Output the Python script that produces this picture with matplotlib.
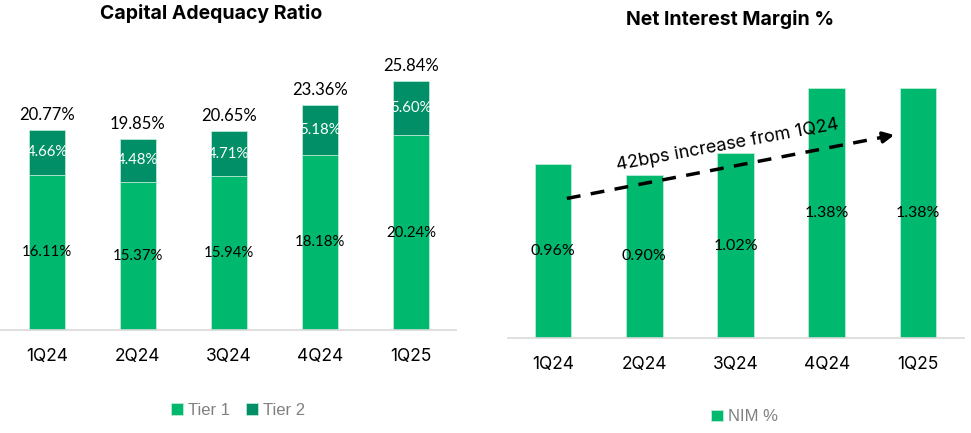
import matplotlib.pyplot as plt
import numpy as np

quarters = ["1Q24", "2Q24", "3Q24", "4Q24", "1Q25"]
tier1 = [16.11, 15.37, 15.94, 18.18, 20.24]
tier2 = [4.66, 4.48, 4.71, 5.18, 5.60]
car_total = [20.77, 19.85, 20.65, 23.36, 25.84]
nim = [0.96, 0.90, 1.02, 1.38, 1.38]

GREEN = "#00B86E"
DARK_GREEN = "#008F66"
LABEL_FONT = "Lato"
TICK_FONT = "Inter"

fig = plt.figure(figsize=(9.71, 4.33), dpi=100)
ax1 = fig.add_axes([0.0015, 0.2379, 0.4686, 0.6674])
ax2 = fig.add_axes([0.5227, 0.2194, 0.4696, 0.6697])

x = np.arange(len(quarters))
w = 0.4

# ---------- Capital Adequacy Ratio ----------
b1 = ax1.bar(x, tier1, w, color=GREEN, edgecolor="#c8eedc", linewidth=0.5, label="Tier 1")
b2 = ax1.bar(x, tier2, w, bottom=tier1, color=DARK_GREEN, edgecolor="#c8eedc", linewidth=0.5, label="Tier 2")
ax1.bar_label(b1, labels=[f"{v:.2f}%" for v in tier1], label_type="center",
              fontsize=10.8, family=LABEL_FONT, color="black")
ax1.bar_label(b2, labels=[f"{v:.2f}%" for v in tier2], label_type="center",
              fontsize=10.8, family=LABEL_FONT, color="white")
ax1.bar_label(b2, labels=[f"{v:.2f}%" for v in car_total], padding=5,
              fontsize=12, family=LABEL_FONT, color="black")
ax1.set_xlim(-0.5, 4.5)
ax1.set_ylim(0, 30)

# ---------- Net Interest Margin ----------
b3 = ax2.bar(x, nim, w, color=GREEN, edgecolor="#c8eedc", linewidth=0.5, label="NIM %")
ax2.bar_label(b3, labels=[f"{v:.2f}%" for v in nim], label_type="center",
              fontsize=11.5, family=LABEL_FONT, color="black")
ax2.set_xlim(-0.5, 4.5)
ax2.set_ylim(0, 1.6)

arrow_start = (0.15, 0.77)
arrow_end = (3.74, 1.12)
t = 0.96
mid = (arrow_start[0] + t * (arrow_end[0] - arrow_start[0]),
       arrow_start[1] + t * (arrow_end[1] - arrow_start[1]))
ax2.plot([arrow_start[0], mid[0]], [arrow_start[1], mid[1]], color="black",
         lw=2.5, ls=(0, (4, 3)), solid_capstyle="butt")
ax2.annotate("", xy=arrow_end, xytext=mid,
             arrowprops=dict(arrowstyle="-|>", color="black", lw=2.5,
                             mutation_scale=16, shrinkA=0, shrinkB=0))
ax2.text(1.91, 1.066, "42bps increase from 1Q24", rotation=10.5,
         ha="center", va="center", fontsize=13, family=TICK_FONT,
         rotation_mode="anchor")

for ax in (ax1, ax2):
    ax.set_xticks(x)
    ax.set_xticklabels(quarters, fontsize=12.5, family=TICK_FONT)
    ax.tick_params(axis="x", length=0, pad=13)
    ax.set_yticks([])
    for s in ("top", "right", "left"):
        ax.spines[s].set_visible(False)
    ax.spines["bottom"].set_color("#d9d9d9")
    ax.spines["bottom"].set_linewidth(1.2)

leg_kw = dict(loc="center", frameon=False, handlelength=0.7, handleheight=0.7,
              handletextpad=0.3, columnspacing=1.0, labelcolor="#808080",
              prop={"family": "Liberation Sans", "size": 12})
ax1.legend(ncol=2, bbox_to_anchor=(0.52, -0.277), **leg_kw)
ax2.legend(ncol=1, bbox_to_anchor=(0.52, -0.272), **leg_kw)

fig.text(0.217, 0.968, "Capital Adequacy Ratio", ha="center", va="center",
         fontsize=14, fontweight="bold", family=TICK_FONT)
fig.text(0.752, 0.955, "Net Interest Margin %", ha="center", va="center",
         fontsize=14, fontweight="bold", family=TICK_FONT)

fig.savefig("out.png", dpi=100)
